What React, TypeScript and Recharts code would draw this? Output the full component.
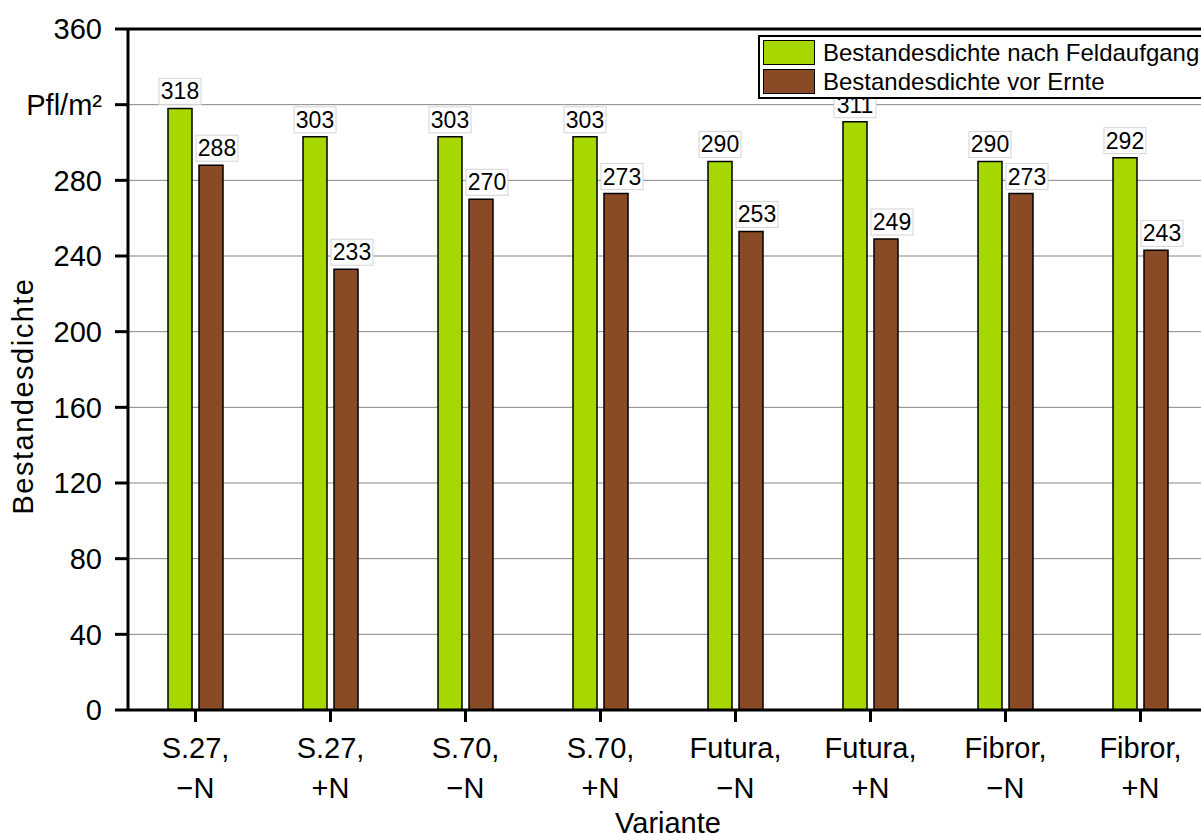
import React from 'react';
import { BarChart, Bar, XAxis, YAxis, CartesianGrid, ReferenceLine, Legend, LabelList } from 'recharts';

const categories = ['S.27, −N', 'S.27, +N', 'S.70, −N', 'S.70, +N', 'Futura, −N', 'Futura, +N', 'Fibror, −N', 'Fibror, +N'];
const nachFeldaufgang = [318, 303, 303, 303, 290, 311, 290, 292];
const vorErnte = [288, 233, 270, 273, 253, 249, 273, 243];
const yTicks = [0, 40, 80, 120, 160, 200, 240, 280, 320, 360];
const seriesNames = ['Bestandesdichte nach Feldaufgang', 'Bestandesdichte vor Ernte'];
const seriesColors = ['#a6d800', '#8b4a26'];
const yAxisTitle = 'Bestandesdichte';
const xAxisTitle = 'Variante';
const unitLabel = 'Pfl/m²';
const unitTick = 320;

const data = categories.map((c, i) => ({ name: c, a: nachFeldaufgang[i], b: vorErnte[i] }));

const FONT = '"Liberation Sans", Arial, sans-serif';

const makeValueLabel = (dx: number) => (props: any) => {
  const { x, y, width, value } = props;
  const cx = Number(x) + Number(width) / 2 + dx;
  const w = 42;
  const h = 26;
  const top = Number(y) - 4 - h;
  return (
    <g>
      <rect x={cx - w / 2} y={top} width={w} height={h} fill="#fff" stroke="#d4d4d4" strokeWidth={1} />
      <text x={cx} y={Number(y) - 9} textAnchor="middle" fontSize={23} fill="#000">{value}</text>
    </g>
  );
};

const XTick = (props: any) => {
  const { x, y, payload } = props;
  const parts = String(payload.value).split(' ');
  return (
    <text x={x} y={y} textAnchor="middle" fontSize={29} fill="#000">
      <tspan x={x} dy={34}>{parts[0]}</tspan>
      <tspan x={x} dy={40}>{parts[1]}</tspan>
    </text>
  );
};

const renderLegend = (props: any) => {
  const { payload } = props;
  return (
    <div style={{ border: '2px solid #000', background: '#fff', width: 480, padding: '1px 3px', boxSizing: 'border-box', fontFamily: FONT }}>
      {(payload || []).map((p: any, i: number) => (
        <div key={i} style={{ display: 'flex', alignItems: 'center', height: 29 }}>
          <span style={{ display: 'inline-block', width: 50, height: 23, background: p.color, border: '1.5px solid #000', marginRight: 8 }} />
          <span style={{ fontSize: 24, color: '#000', lineHeight: '28px' }}>{p.value}</span>
        </div>
      ))}
    </div>
  );
};

export default function App() {
  return (
    <div style={{ position: 'fixed', left: 0, top: 0, width: 1201, height: 834, overflow: 'hidden', background: '#fff', fontFamily: FONT }}>
      <BarChart
        width={1240}
        height={834}
        data={data}
        margin={{ top: 29, right: 32, left: 0, bottom: 0 }}
        barSize={24}
        barGap={7}
      >
        <CartesianGrid horizontal={true} vertical={false} stroke="#858585" strokeWidth={1} />
        <XAxis
          dataKey="name"
          height={124}
          interval={0}
          tick={<XTick />}
          tickSize={12}
          tickMargin={2}
          axisLine={{ stroke: '#000', strokeWidth: 3 }}
          tickLine={{ stroke: '#000', strokeWidth: 3 }}
          label={{
            content: () => (
              <text x={668} y={833} textAnchor="middle" fontSize={29} fill="#000">{xAxisTitle}</text>
            ),
          }}
        />
        <YAxis
          width={128}
          domain={[0, 360]}
          ticks={yTicks}
          interval={0}
          tickSize={13}
          tickMargin={13}
          tick={{ fontSize: 29, fill: '#000' }}
          tickFormatter={(v: number) => (v === unitTick ? unitLabel : String(v))}
          axisLine={{ stroke: '#000', strokeWidth: 3 }}
          tickLine={{ stroke: '#000', strokeWidth: 3 }}
          label={{
            content: () => (
              <text x={33} y={396} transform="rotate(-90, 33, 396)" textAnchor="middle" fontSize={29} letterSpacing={1.5} fill="#000">{yAxisTitle}</text>
            ),
          }}
        />
        <ReferenceLine y={360} stroke="#000" strokeWidth={3} />
        <Legend
          layout="vertical"
          align="center"
          verticalAlign="middle"
          content={renderLegend}
          wrapperStyle={{ position: 'absolute', left: 758, top: 35, width: 480, height: 61 }}
        />
        <Bar dataKey="a" name={seriesNames[0]} fill={seriesColors[0]} stroke="#000" strokeWidth={1.5} isAnimationActive={false}>
          <LabelList dataKey="a" content={makeValueLabel(0)} />
        </Bar>
        <Bar dataKey="b" name={seriesNames[1]} fill={seriesColors[1]} stroke="#000" strokeWidth={1.5} isAnimationActive={false}>
          <LabelList dataKey="b" content={makeValueLabel(6)} />
        </Bar>
      </BarChart>
    </div>
  );
}
